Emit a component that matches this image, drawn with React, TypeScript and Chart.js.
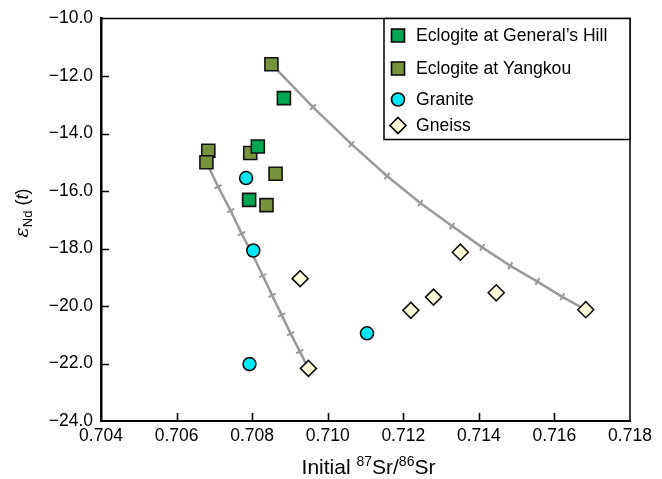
import React, { useEffect, useRef } from 'react';
import { Chart, registerables } from 'chart.js';

Chart.register(...registerables);

// ---- data ----
const generalsHillX = [0.70884, 0.70815, 0.70792];
const generalsHillY = [-12.77, -14.45, -16.31];

const yangkouX = [0.70851, 0.70684, 0.70679, 0.70795, 0.70862, 0.70838];
const yangkouY = [-11.59, -14.6, -15.0, -14.68, -15.4, -16.49];

const graniteX = [0.70784, 0.70803, 0.70793, 0.71104];
const graniteY = [-15.55, -18.07, -22.02, -20.95];

const gneissX = [0.70927, 0.70949, 0.7122, 0.7128, 0.71351, 0.71446, 0.71683];
const gneissY = [-19.05, -22.17, -20.15, -19.69, -18.13, -19.54, -20.13];

const mixing1X = [0.70679, 0.7071, 0.70743, 0.70772, 0.70801, 0.70828, 0.70853, 0.70878, 0.70902, 0.70926, 0.70949];
const mixing1Y = [-15.0, -15.85, -16.68, -17.48, -18.21, -18.94, -19.63, -20.31, -20.96, -21.58, -22.17];

const mixing2X = [0.70851, 0.70961, 0.71063, 0.71157, 0.71245, 0.71329, 0.71409, 0.71483, 0.71555, 0.71621, 0.71683];
const mixing2Y = [-11.59, -13.08, -14.37, -15.48, -16.42, -17.22, -17.96, -18.6, -19.15, -19.68, -20.13];

const seriesLabels = ['Eclogite at General\u2019s Hill', 'Eclogite at Yangkou', 'Granite', 'Gneiss'];

const xMin = 0.704;
const xMax = 0.718;
const xStep = 0.002;
const yMin = -24;
const yMax = -10;
const yStep = 2;

const FONT = '"Liberation Sans", Arial, Helvetica, sans-serif';

const zip = (xs: number[], ys: number[]) => xs.map((x, i) => ({ x, y: ys[i] }));

function drawMarker(ctx: CanvasRenderingContext2D, style: string, x: number, y: number, fill: string) {
  ctx.save();
  ctx.fillStyle = fill;
  ctx.strokeStyle = '#000';
  ctx.lineWidth = 1.6;
  ctx.beginPath();
  if (style === 'rect') {
    ctx.rect(x - 6.5, y - 6.5, 13, 13);
  } else if (style === 'circle') {
    ctx.arc(x, y, 6.5, 0, Math.PI * 2);
  } else {
    const r = 8;
    ctx.moveTo(x, y - r);
    ctx.lineTo(x + r, y);
    ctx.lineTo(x, y + r);
    ctx.lineTo(x - r, y);
    ctx.closePath();
  }
  ctx.fill();
  ctx.stroke();
  ctx.restore();
}

const decorPlugin = {
  id: 'decor',
  afterDraw(chart: any) {
    const { ctx, chartArea: a, scales } = chart;
    const xs = scales.x;
    const ys = scales.y;
    ctx.save();
    // top and right frame
    ctx.strokeStyle = '#000';
    ctx.lineWidth = 1.5;
    ctx.beginPath();
    ctx.moveTo(a.left, a.top);
    ctx.lineTo(a.right, a.top);
    ctx.lineTo(a.right, a.bottom);
    ctx.stroke();
    // inward ticks
    ctx.lineWidth = 1.6;
    ctx.beginPath();
    xs.ticks.forEach((t: any) => {
      const px = Math.round(xs.getPixelForValue(t.value)) + 0.5;
      if (px > a.left + 2 && px < a.right - 2) {
        ctx.moveTo(px, a.bottom);
        ctx.lineTo(px, a.bottom - 8);
      }
    });
    ys.ticks.forEach((t: any) => {
      const py = Math.round(ys.getPixelForValue(t.value)) + 0.5;
      if (py > a.top + 2 && py < a.bottom - 2) {
        ctx.moveTo(a.left, py);
        ctx.lineTo(a.left + 8, py);
      }
    });
    ctx.stroke();

    // legend box
    const lx = a.right - 246;
    const ly = a.top;
    ctx.fillStyle = '#fff';
    ctx.fillRect(lx, ly, 246, 121);
    ctx.strokeStyle = '#000';
    ctx.lineWidth = 1.5;
    ctx.strokeRect(lx, ly, 246, 121);
    const rows = [17, 50, 81, 107];
    ctx.font = `17.6px ${FONT}`;
    ctx.textBaseline = 'middle';
    ctx.textAlign = 'left';
    for (let i = 0; i < 4; i++) {
      const ds = chart.data.datasets[i];
      const yy = ly + rows[i];
      drawMarker(ctx, ds.pointStyle, lx + 14, yy, ds.backgroundColor);
      ctx.fillStyle = '#000';
      ctx.fillText(seriesLabels[i], lx + 32, yy + 1);
    }

    // x axis title: Initial 87Sr/86Sr
    const big = 21;
    const small = 14;
    const parts: [string, number, number][] = [
      ['Initial ', big, 0],
      ['87', small, -8],
      ['Sr/', big, 0],
      ['86', small, -8],
      ['Sr', big, 0],
    ];
    let total = 0;
    parts.forEach(([t, s]) => {
      ctx.font = `${s}px ${FONT}`;
      total += ctx.measureText(t).width;
    });
    let cx = (a.left + a.right) / 2 + 3 - total / 2;
    const ty = 467;
    ctx.textBaseline = 'alphabetic';
    ctx.fillStyle = '#000';
    parts.forEach(([t, s, dy]) => {
      ctx.font = `${s}px ${FONT}`;
      ctx.fillText(t, cx, ty + 7 + dy);
      cx += ctx.measureText(t).width;
    });

    // y axis title: εNd (t)
    ctx.save();
    ctx.translate(22, 213);
    ctx.rotate(-Math.PI / 2);
    const yparts: [string, string, number][] = [
      ['\u03b5', `italic 19px "DejaVu Serif", "Liberation Serif", serif`, 0],
      ['Nd', `13px ${FONT}`, 4],
      [' (', `18px ${FONT}`, 0],
      ['t', `italic 18px ${FONT}`, 0],
      [')', `18px ${FONT}`, 0],
    ];
    let yt = 0;
    yparts.forEach(([t, f]) => {
      ctx.font = f;
      yt += ctx.measureText(t).width;
    });
    let yx = -yt / 2;
    yparts.forEach(([t, f, dy]) => {
      ctx.font = f;
      ctx.fillText(t, yx, 6 + dy);
      yx += ctx.measureText(t).width;
    });
    ctx.restore();

    ctx.restore();
  },
};

function crossAngle(c: any) {
  const chart = c.chart;
  const data = c.dataset.data;
  const i = c.dataIndex;
  const xs = chart.scales.x;
  const ys = chart.scales.y;
  if (!xs || !ys || !data) return 0;
  const p0 = data[Math.max(0, i - 1)];
  const p1 = data[Math.min(data.length - 1, i + 1)];
  const dx = xs.getPixelForValue(p1.x) - xs.getPixelForValue(p0.x);
  const dy = ys.getPixelForValue(p1.y) - ys.getPixelForValue(p0.y);
  return (Math.atan2(dy, dx) * 180) / Math.PI;
}

function curveRadius(c: any) {
  const n = c.dataset.data.length;
  return c.dataIndex === 0 || c.dataIndex === n - 1 ? 0 : 4;
}

export default function App() {
  const ref = useRef<HTMLCanvasElement>(null);

  useEffect(() => {
    if (!ref.current) return;
    const chart = new Chart(ref.current, {
      type: 'scatter',
      data: {
        datasets: [
          {
            label: seriesLabels[0],
            data: zip(generalsHillX, generalsHillY),
            pointStyle: 'rect',
            pointRadius: 9.2,
            backgroundColor: '#00A651',
            borderColor: '#111',
            borderWidth: 1.6,
            order: 0,
          },
          {
            label: seriesLabels[1],
            data: zip(yangkouX, yangkouY),
            pointStyle: 'rect',
            pointRadius: 9.2,
            backgroundColor: '#77933C',
            borderColor: '#111',
            borderWidth: 1.6,
            order: 1,
          },
          {
            label: seriesLabels[2],
            data: zip(graniteX, graniteY),
            pointStyle: 'circle',
            pointRadius: 6.5,
            backgroundColor: '#00E8F8',
            borderColor: '#111',
            borderWidth: 1.6,
            order: 2,
          },
          {
            label: seriesLabels[3],
            data: zip(gneissX, gneissY),
            pointStyle: 'rectRot',
            pointRadius: 8,
            backgroundColor: '#FFFCDA',
            borderColor: '#111',
            borderWidth: 1.6,
            order: 3,
          },
          {
            label: 'mixing 1',
            data: zip(mixing1X, mixing1Y),
            showLine: true,
            borderColor: '#9A9A9A',
            borderWidth: 2.5,
            pointStyle: 'cross',
            pointRadius: curveRadius as any,
            pointRotation: crossAngle as any,
            pointBorderColor: '#9A9A9A',
            pointBorderWidth: 2,
            backgroundColor: '#9A9A9A',
            order: 10,
          },
          {
            label: 'mixing 2',
            data: zip(mixing2X, mixing2Y),
            showLine: true,
            borderColor: '#9A9A9A',
            borderWidth: 2.5,
            pointStyle: 'cross',
            pointRadius: curveRadius as any,
            pointRotation: crossAngle as any,
            pointBorderColor: '#9A9A9A',
            pointBorderWidth: 2,
            backgroundColor: '#9A9A9A',
            order: 11,
          },
        ],
      },
      options: {
        responsive: false,
        animation: false,
        devicePixelRatio: 1,
        layout: { padding: { left: 0, top: 15, right: 32, bottom: 0 } },
        plugins: {
          legend: { display: false },
          tooltip: { enabled: false },
        },
        scales: {
          x: {
            type: 'linear',
            min: xMin,
            max: xMax,
            afterFit: (s: any) => {
              s.height = 58;
            },
            afterBuildTicks: (s: any) => {
              const t = [];
              for (let v = xMin; v <= xMax + 1e-9; v += xStep) t.push({ value: +v.toFixed(3) });
              s.ticks = t;
            },
            ticks: {
              padding: 5,
              color: '#000',
              font: { family: FONT, size: 17.5 },
              callback: (v: any) => Number(v).toFixed(3),
            },
            grid: { display: true, drawOnChartArea: false, drawTicks: false },
            border: { display: true, color: '#000', width: 2 },
          },
          y: {
            type: 'linear',
            min: yMin,
            max: yMax,
            afterFit: (s: any) => {
              s.width = 101;
            },
            ticks: {
              stepSize: yStep,
              padding: 8,
              color: '#000',
              font: { family: FONT, size: 17.5 },
              callback: (v: any) => (Number(v) < 0 ? '\u2212' : '') + Math.abs(Number(v)).toFixed(1),
            },
            grid: { display: true, drawOnChartArea: false, drawTicks: false },
            border: { display: true, color: '#000', width: 2.5 },
          },
        },
      },
      plugins: [decorPlugin],
    });
    return () => chart.destroy();
  }, []);

  return (
    <div style={{ position: 'fixed', left: 0, top: 0, width: 662, height: 479, background: '#fff' }}>
      <canvas ref={ref} width={662} height={479} style={{ display: 'block' }} />
    </div>
  );
}
